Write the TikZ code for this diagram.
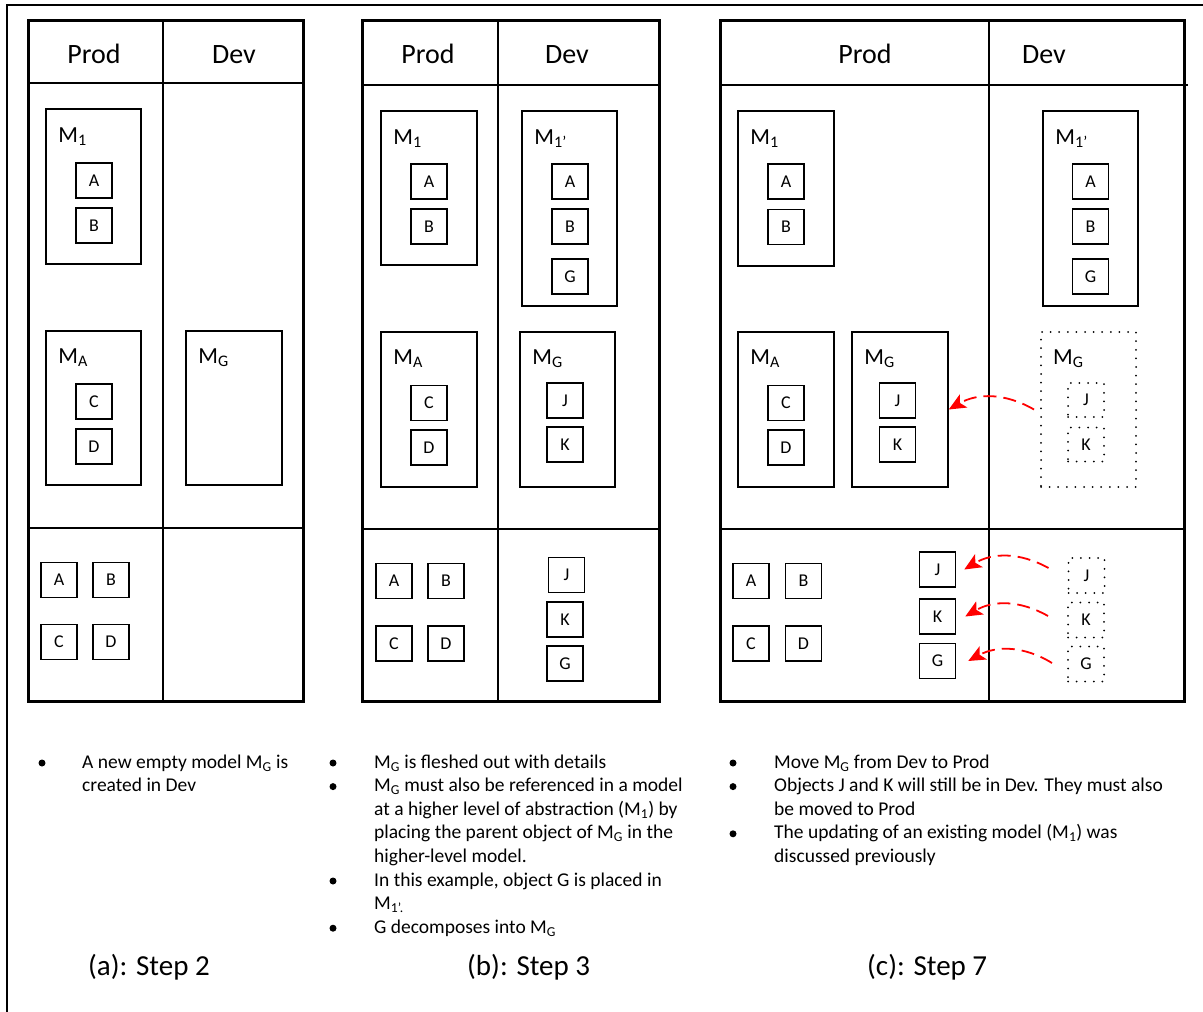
\documentclass[tikz,border=0pt]{standalone}
\usepackage{fontspec}
\setmainfont{Carlito}
\usetikzlibrary{arrows.meta}

\tikzset{
  panel/.style={line width=3pt},
  divider/.style={line width=1.5pt},
  obj/.style={draw, line width=1.5pt, minimum width=36pt, minimum height=35pt,
    inner sep=0pt, font=\fontsize{18}{18}\selectfont},
  ghost/.style={obj, line width=2pt, dash pattern=on 0pt off 8.6pt, line cap=round},
  model/.style={draw, line width=1.5pt, inner sep=0pt},
  ghostmodel/.style={model, line width=2pt, dash pattern=on 0pt off 8.6pt, line cap=round},
  mlabel/.style={anchor=base west, inner sep=0pt, font=\fontsize{23}{23}\selectfont},
  head/.style={anchor=base, inner sep=0pt, font=\fontsize{28}{28}\selectfont},
  txt/.style={anchor=base west, inner sep=0pt, font=\fontsize{19.5}{23.6}\selectfont},
  bulletdot/.style={circle, fill, inner sep=0pt, minimum size=7pt},
  capt/.style={anchor=base west, inner sep=0pt, font=\fontsize{29}{29}\selectfont},
  move/.style={red, line width=1.8pt, dash pattern=on 13pt off 7pt,
    -{Stealth[length=17pt,width=15pt,inset=4pt]}},
}

\begin{document}
\begin{tikzpicture}[x=1pt,y=-1pt]
\useasboundingbox (0,0) rectangle (1203,1012);

% page frame
\draw[line width=2pt] (7,1012) -- (7,5) -- (1203,5);

% ---------------- (a): Step 2 ----------------
\draw[panel] (28,20) rectangle (303,701);
\draw[divider] (28,83) -- (303,83);
\draw[divider] (163,20) -- (163,701);
\draw[divider] (28,528) -- (303,528);
\node[head] (a-prod) at (94,63) {Prod};
\node[head] (a-dev) at (234,63) {Dev};

\node[model, minimum width=95pt, minimum height=155pt] (a-m1) at (93.5,186.5) {};
\node[mlabel] (a-m1-l) at ([shift={(13,34)}]a-m1.north west) {M\textsubscript{1}};
\node[obj] (a-m1-a) at (94,180.5) {A};
\node[obj] (a-m1-b) at (94,225.5) {B};

\node[model, minimum width=95pt, minimum height=154pt] (a-ma) at (93.5,408) {};
\node[mlabel] (a-ma-l) at ([shift={(13,33)}]a-ma.north west) {M\textsubscript{A}};
\node[obj] (a-ma-c) at (94,401.5) {C};
\node[obj] (a-ma-d) at (94,446.5) {D};

\node[model, minimum width=96pt, minimum height=154pt] (a-mg) at (234,408) {};
\node[mlabel] (a-mg-l) at ([shift={(13,33)}]a-mg.north west) {M\textsubscript{G}};

\node[obj] (a-a) at (59,580) {A};
\node[obj] (a-b) at (111,580) {B};
\node[obj] (a-c) at (59,642) {C};
\node[obj] (a-d) at (111,642) {D};

\node[bulletdot] (a-dot1) at (42,763) {};
\node[txt] (a-t1) at (82,768) {A new empty model M\textsubscript{G} is};
\node[txt] (a-t2) at (82,791.6) {created in Dev};
\node[capt] (a-cap) at (88,975) {(a): Step 2};

% ---------------- (b): Step 3 ----------------
\draw[panel] (362,20) rectangle (659,701);
\draw[divider] (362,85) -- (659,85);
\draw[divider] (498,20) -- (498,701);
\draw[divider] (362,529) -- (659,529);
\node[head] (b-prod) at (428,63) {Prod};
\node[head] (b-dev) at (567,63) {Dev};

\node[model, minimum width=96pt, minimum height=154pt] (b-m1) at (429,188) {};
\node[mlabel] (b-m1-l) at ([shift={(13,34)}]b-m1.north west) {M\textsubscript{1}};
\node[obj] (b-m1-a) at (429,181.5) {A};
\node[obj] (b-m1-b) at (429,226.5) {B};

\node[model, minimum width=95pt, minimum height=195pt] (b-m1p) at (569.5,208.5) {};
\node[mlabel] (b-m1p-l) at ([shift={(13,34)}]b-m1p.north west) {M\textsubscript{1'}};
\node[obj] (b-m1p-a) at (570,181.5) {A};
\node[obj] (b-m1p-b) at (570,226.5) {B};
\node[obj] (b-m1p-g) at (570,276.5) {G};

\node[model, minimum width=96pt, minimum height=155pt] (b-ma) at (429,409.5) {};
\node[mlabel] (b-ma-l) at ([shift={(13,33)}]b-ma.north west) {M\textsubscript{A}};
\node[obj] (b-ma-c) at (429,403) {C};
\node[obj] (b-ma-d) at (429,447.5) {D};

\node[model, minimum width=95pt, minimum height=155pt] (b-mg) at (567.5,409.5) {};
\node[mlabel] (b-mg-l) at ([shift={(13,33)}]b-mg.north west) {M\textsubscript{G}};
\node[obj] (b-mg-j) at (565,400.5) {J};
\node[obj] (b-mg-k) at (565,444.5) {K};

\node[obj] (b-a) at (394,581) {A};
\node[obj] (b-b) at (446,581) {B};
\node[obj] (b-c) at (394,643.5) {C};
\node[obj] (b-d) at (446,643.5) {D};
\node[obj] (b-j) at (566.5,575) {J};
\node[obj] (b-k) at (565,619.5) {K};
\node[obj] (b-g) at (565,663.5) {G};

\node[bulletdot] (b-dot1) at (333,763) {};
\node[bulletdot] (b-dot2) at (333,786.6) {};
\node[bulletdot] (b-dot3) at (333,881) {};
\node[bulletdot] (b-dot4) at (333,928.2) {};
\node[txt] (b-t1) at (374,768) {M\textsubscript{G} is fleshed out with details};
\node[txt] (b-t2) at (374,791.6) {M\textsubscript{G} must also be referenced in a model};
\node[txt] (b-t3) at (374,815.2) {at a higher level of abstraction (M\textsubscript{1}) by};
\node[txt] (b-t4) at (374,838.8) {placing the parent object of M\textsubscript{G} in the};
\node[txt] (b-t5) at (374,862.4) {higher-level model.};
\node[txt] (b-t6) at (374,886) {In this example, object G is placed in};
\node[txt] (b-t7) at (374,909.6) {M\textsubscript{1'.}};
\node[txt] (b-t8) at (374,933.2) {G decomposes into M\textsubscript{G}};
\node[capt] (b-cap) at (467,975) {(b): Step 3};

% ---------------- (c): Step 7 ----------------
\draw[panel] (720,20) rectangle (1184,701);
\draw[divider] (720,85) -- (1188,85);
\draw[divider] (989,20) -- (989,701);
\draw[divider] (720,529) -- (1184,529);
\node[head] (c-prod) at (865,63) {Prod};
\node[head] (c-dev) at (1044,63) {Dev};

\node[model, minimum width=96pt, minimum height=155pt] (c-m1) at (786,188.5) {};
\node[mlabel] (c-m1-l) at ([shift={(13,34)}]c-m1.north west) {M\textsubscript{1}};
\node[obj] (c-m1-a) at (786,181.5) {A};
\node[obj] (c-m1-b) at (786,227) {B};

\node[model, minimum width=95pt, minimum height=195pt] (c-m1p) at (1090.5,208.5) {};
\node[mlabel] (c-m1p-l) at ([shift={(13,34)}]c-m1p.north west) {M\textsubscript{1'}};
\node[obj] (c-m1p-a) at (1090.5,181.5) {A};
\node[obj] (c-m1p-b) at (1090.5,226.5) {B};
\node[obj] (c-m1p-g) at (1090.5,276.5) {G};

\node[model, minimum width=96pt, minimum height=155pt] (c-ma) at (786,409.5) {};
\node[mlabel] (c-ma-l) at ([shift={(13,33)}]c-ma.north west) {M\textsubscript{A}};
\node[obj] (c-ma-c) at (786,403) {C};
\node[obj] (c-ma-d) at (786,447.5) {D};

\node[model, minimum width=96pt, minimum height=155pt] (c-mg) at (900,409.5) {};
\node[mlabel] (c-mg-l) at ([shift={(13,33)}]c-mg.north west) {M\textsubscript{G}};
\node[obj] (c-mg-j) at (897.5,400.5) {J};
\node[obj] (c-mg-k) at (897.5,444.5) {K};

% old copy of M_G still in Dev
\node[ghostmodel, minimum width=95pt, minimum height=155pt] (c-omg) at (1088.5,409.5) {};
\node[mlabel] (c-omg-l) at ([shift={(13,33)}]c-omg.north west) {M\textsubscript{G}};
\node[ghost, minimum height=34pt] (c-omg-j) at (1086,400) {J};
\node[ghost, minimum height=34pt] (c-omg-k) at (1086,444.5) {K};

\node[obj] (c-a) at (751,581) {A};
\node[obj] (c-b) at (803.5,581) {B};
\node[obj] (c-c) at (751,643.5) {C};
\node[obj] (c-d) at (803.5,643.5) {D};
\node[obj] (c-j) at (937.5,569.5) {J};
\node[obj] (c-k) at (937.5,616.5) {K};
\node[obj] (c-g) at (937.5,661) {G};

\node[ghost] (c-oj) at (1086.5,575.5) {J};
\node[ghost] (c-ok) at (1086,620) {K};
\node[ghost] (c-og) at (1086,664) {G};

% moves from Dev to Prod
\draw[move] ([xshift=-6pt]c-omg.west) to[bend right=30] (c-mg.east);
\draw[move] ([shift={(-19,-7.5)}]c-oj.west) to[bend right=30] ([xshift=8pt]c-j.east);
\draw[move] ([shift={(-19,-4)}]c-ok.west) to[bend right=30] ([xshift=9pt]c-k.east);
\draw[move] ([shift={(-15,-1)}]c-og.west) to[bend right=30] ([xshift=12pt]c-g.east);

\node[bulletdot] (c-dot1) at (733,763) {};
\node[bulletdot] (c-dot2) at (733,786.6) {};
\node[bulletdot] (c-dot3) at (733,833.8) {};
\node[txt] (c-t1) at (774,768) {Move M\textsubscript{G} from Dev to Prod};
\node[txt] (c-t2) at (774,791.6) {Objects J and K will still be in Dev. They must also};
\node[txt] (c-t3) at (774,815.2) {be moved to Prod};
\node[txt] (c-t4) at (774,838.8) {The updating of an existing model (M\textsubscript{1}) was};
\node[txt] (c-t5) at (774,862.4) {discussed previously};
\node[capt] (c-cap) at (867,975) {(c): Step 7};
\end{tikzpicture}
\end{document}
